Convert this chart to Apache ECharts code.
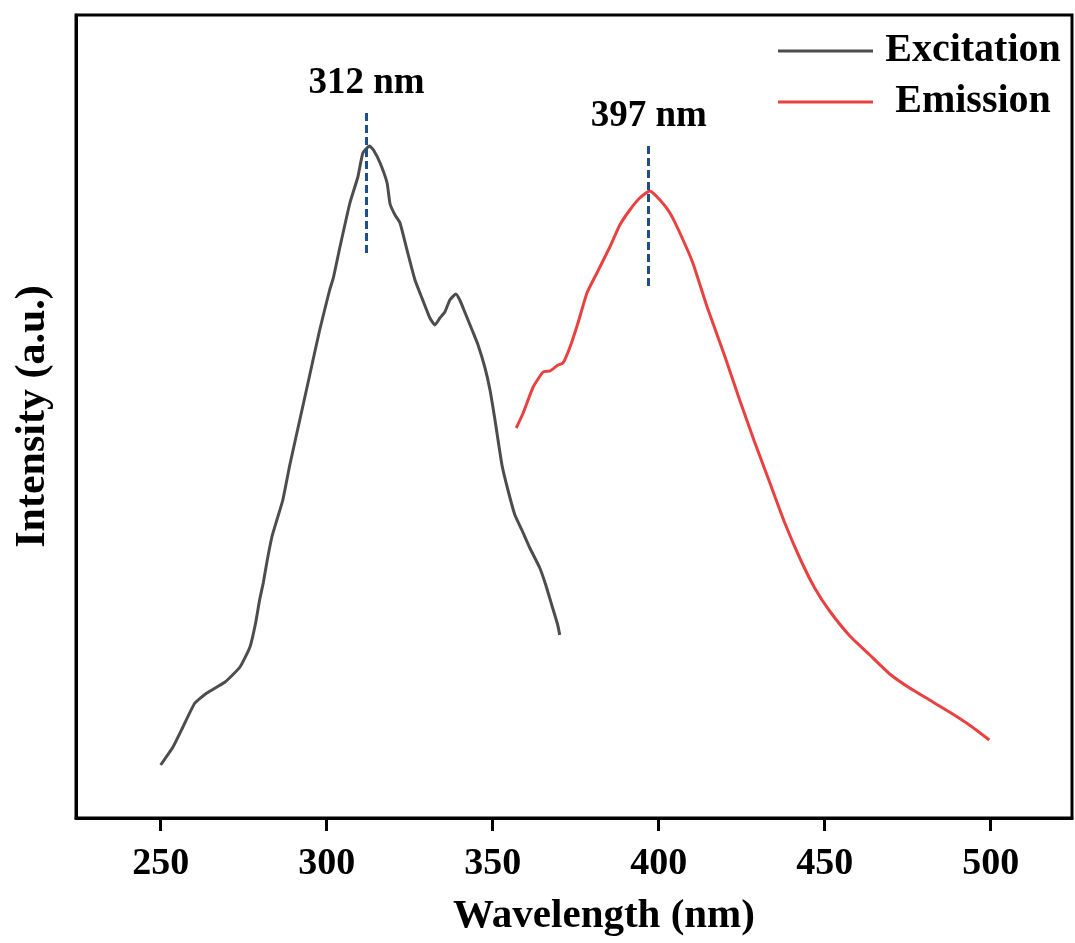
<!DOCTYPE html>
<html>
<head>
<meta charset="utf-8">
<title>Excitation and emission spectra</title>
<script src="https://cdn.jsdelivr.net/npm/echarts@6/dist/echarts.min.js"></script>
<style>
  html, body { margin: 0; padding: 0; background: #fff; }
  #chart { width: 1075px; height: 943px; }
</style>
</head>
<body>
<div id="chart"></div>
<script>
// Excitation spectrum: wavelength (nm) and intensity (a.u.)
const excitationNm = [250.0, 253.7, 256.7, 260.3, 263.9, 269.4, 273.9, 276.9, 278.6, 279.8, 280.9, 282.0, 283.5, 285.0, 286.8,
  288.9, 291.9, 294.9, 297.9, 300.9, 302.0, 304.0, 307.0, 309.4, 310.9, 312.9, 314.1, 316.1, 318.2, 319.1, 320.6, 322.1,
  324.2, 326.6, 328.7, 331.1, 332.6, 334.1, 335.6, 337.1, 338.9, 340.1, 341.6, 343.8, 345.6, 347.7, 349.2, 350.7, 352.8,
  354.6, 356.7, 358.8, 361.2, 364.2, 366.0, 367.8, 369.6, 370.2];
const excitationI = [0.53, 0.71, 0.91, 1.15, 1.25, 1.36, 1.51, 1.71, 1.95, 2.18, 2.35, 2.56, 2.81, 2.98, 3.18,
  3.53, 3.98, 4.43, 4.88, 5.28, 5.40, 5.71, 6.15, 6.41, 6.65, 6.72, 6.68, 6.55, 6.35, 6.14, 6.03, 5.95,
  5.68, 5.38, 5.20, 5.00, 4.93, 5.00, 5.06, 5.18, 5.24, 5.18, 5.06, 4.88, 4.73, 4.50, 4.28, 3.98, 3.53,
  3.28, 3.03, 2.88, 2.70, 2.50, 2.33, 2.13, 1.93, 1.83];

// Emission spectrum: wavelength (nm) and intensity (a.u.)
const emissionNm = [357.1, 359.2, 362.2, 365.2, 367.3, 369.7, 371.2, 373.3, 375.7, 378.4, 381.4, 385.3, 388.3, 391.3,
  394.3, 397.3, 400.4, 403.4, 406.4, 410.3, 414.5, 419.9, 424.4, 428.9, 433.4, 438.0, 442.5, 447.0, 451.5, 457.6,
  463.6, 469.6, 475.6, 481.6, 487.6, 493.6, 499.6];
const emissionI = [3.90, 4.05, 4.31, 4.46, 4.47, 4.53, 4.55, 4.71, 4.95, 5.25, 5.45, 5.71, 5.93, 6.08,
  6.20, 6.27, 6.18, 6.05, 5.85, 5.55, 5.12, 4.62, 4.18, 3.76, 3.36, 2.95, 2.60, 2.30, 2.07, 1.82,
  1.63, 1.44, 1.30, 1.18, 1.06, 0.93, 0.78];

// Peak markers: wavelength, and the vertical extent of the dashed guide
const peakNm = [312, 397];
const peakLineTop = [7.05, 6.72];
const peakLineBottom = [5.61, 5.28];

// Axis ticks
const xTicks = [250, 300, 350, 400, 450, 500];
const xMin = 224.5, xMax = 524.5;
const yMin = 0, yMax = 8.03;

const FONT = "'Times New Roman', 'Liberation Serif', serif";

function zip(xs, ys) { return xs.map((x, i) => [x, ys[i]]); }

function peakMark(i) {
  return {
    silent: true,
    symbol: ['none', 'none'],
    lineStyle: { color: '#1f4e8c', width: 3, type: [8, 4] },
    label: {
      show: true,
      position: 'start',
      formatter: peakNm[i] + ' nm',
      color: '#000',
      fontFamily: FONT,
      fontWeight: 'bold',
      fontSize: 37,
      distance: 11
    },
    data: [[
      { coord: [peakNm[i], peakLineTop[i]] },
      { coord: [peakNm[i], peakLineBottom[i]] }
    ]]
  };
}

const chart = echarts.init(document.getElementById('chart'), null, { renderer: 'canvas' });

chart.setOption({
  backgroundColor: '#fff',
  animation: false,
  grid: {
    left: 76, right: 3, top: 15, bottom: 125,
    show: true, borderColor: '#000', borderWidth: 3
  },
  legend: {
    orient: 'vertical',
    left: 773,
    top: 26,
    itemWidth: 95,
    itemHeight: 3,
    itemGap: 11,
    icon: 'rect',
    formatter: '{t|{name}}',
    textStyle: {
      rich: {
        t: {
          width: 190, align: 'center', lineHeight: 42,
          fontFamily: FONT, fontWeight: 'bold', fontSize: 40, color: '#000'
        }
      }
    },
    data: ['Excitation', 'Emission']
  },
  xAxis: {
    type: 'value',
    min: xMin,
    max: xMax,
    name: 'Wavelength (nm)',
    nameLocation: 'middle',
    nameGap: 78,
    nameTextStyle: {
      fontFamily: FONT, fontWeight: 'bold', fontSize: 41, color: '#000',
      padding: [0, 0, 0, 60]
    },
    axisLine: { show: true, onZero: false, lineStyle: { color: '#000', width: 3 } },
    axisTick: {
      show: true, inside: false, length: 13,
      lineStyle: { color: '#000', width: 3 },
      customValues: xTicks
    },
    axisLabel: {
      show: true, margin: 27,
      fontFamily: FONT, fontWeight: 'bold', fontSize: 38, color: '#000',
      customValues: xTicks
    },
    splitLine: { show: false }
  },
  yAxis: {
    type: 'value',
    min: yMin,
    max: yMax,
    name: 'Intensity (a.u.)',
    nameLocation: 'middle',
    nameGap: 22,
    nameTextStyle: {
      fontFamily: FONT, fontWeight: 'bold', fontSize: 42, color: '#000'
    },
    axisLine: { show: true, lineStyle: { color: '#000', width: 3 } },
    axisTick: { show: false },
    axisLabel: { show: false },
    splitLine: { show: false }
  },
  series: [
    {
      name: 'Excitation',
      type: 'line',
      data: zip(excitationNm, excitationI),
      showSymbol: false,
      smooth: 0.15,
      lineStyle: { color: '#4d4d4d', width: 3 },
      itemStyle: { color: '#4d4d4d' },
      markLine: peakMark(0)
    },
    {
      name: 'Emission',
      type: 'line',
      data: zip(emissionNm, emissionI),
      showSymbol: false,
      smooth: 0.15,
      lineStyle: { color: '#e8413f', width: 3 },
      itemStyle: { color: '#e8413f' },
      markLine: peakMark(1)
    }
  ]
});
</script>
</body>
</html>
